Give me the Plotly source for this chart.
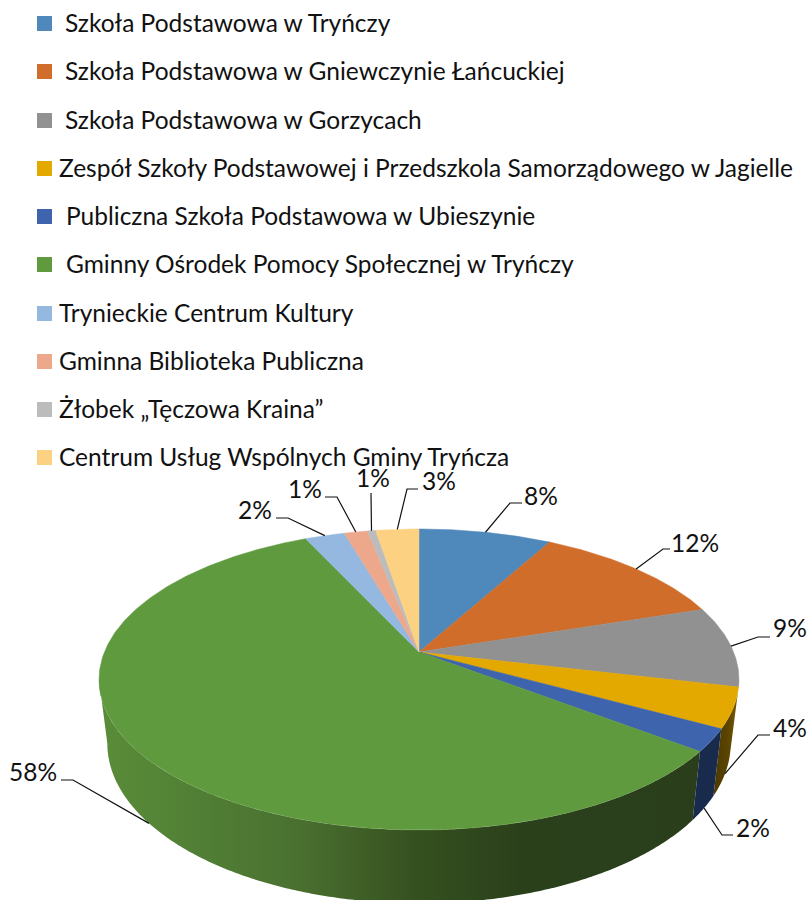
import math
import plotly.graph_objects as go

categories = [
    "Szkoła Podstawowa w Tryńczy",
    "Szkoła Podstawowa w Gniewczynie Łańcuckiej",
    "Szkoła Podstawowa w Gorzycach",
    "Zespół Szkoły Podstawowej i Przedszkola Samorządowego w Jagielle",
    "Publiczna Szkoła Podstawowa w Ubieszynie",
    "Gminny Ośrodek Pomocy Społecznej w Tryńczy",
    "Tryniec" + "kie Centrum Kultury",
    "Gminna Biblioteka Publiczna",
    "Żłobek „Tęczowa Kraina”",
    "Centrum Usług Wspólnych Gminy Tryńcza",
]
values = [8.0, 12.0, 8.7, 4.3, 2.4, 57.7, 2.4, 1.4, 0.5, 2.6]
labels = ["8%", "12%", "9%", "4%", "2%", "58%", "2%", "1%", "1%", "3%"]
colors = ["#4F88BB", "#D06D2A", "#919191", "#E3A900", "#3D64AD",
          "#609A3F", "#95B8E0", "#EDA88C", "#BCBCBC", "#FDD182"]

# side wall shading, left to right
wall_scales = {
    3: [[0, "#4A3800"], [0.6, "#5C4500"], [1, "#7A5C00"]],
    4: [[0, "#182B4D"], [1, "#182B4D"]],
    5: [[0, "#5A8C38"], [0.157, "#518035"], [0.33, "#4A7030"], [0.53, "#35501F"],
        [0.7, "#2A401B"], [1, "#2A3E1C"]],
}

# layout
W, H = 809, 900
CX, CY = 419, 652
R, B, K = 314.6, 145.5, 0.1827
DROP, SHRINK_X, STRETCH_Y = 62.2, 0.974, 1.063
FONT = "Lato"
FS = 24.5
TXT = "#111111"
legend_x = [63, 63, 63, 57, 64, 64, 57, 57, 57, 57]
legend_y = [22.5, 70.5, 119.5, 167.5, 215.5, 263.5, 312.5, 360.5, 408.5, 456.5]
swatch_y = [23.5, 71.5, 120.5, 168.5, 216.5, 264.5, 313.5, 361.5, 409.5, 457.5]
swatch_x = 44.5
label_center = [(541, 495), (695, 542), (790, 627), (790, 727), (753, 827),
                (33, 771), (255, 509), (305, 488), (373, 477), (439, 480)]
elbows = [[(510, 503), (522, 503)], [(663, 549), (670, 549)], [(758, 637), (770, 637)],
          [(758, 735), (770, 735)], [(722, 835), (733, 835)], [(73, 780), (61, 780)],
          [(288, 518), (276, 518)], [(337, 497), (325, 497)], [(371, 493)], [(407, 489), (418, 489)]]
on_bottom = {3, 4, 5}


def project(theta, lower=False):
    u, v = math.sin(theta), math.cos(theta)
    w = 1 + K * v
    dx, dy = R * u / w, -B * v / w
    if lower:
        return CX + SHRINK_X * dx, CY + DROP + STRETCH_Y * dy
    return CX + dx, CY + dy


def arc(a, b, lower=False):
    n = max(4, int((b - a) * 120))
    return [project(a + (b - a) * i / n, lower) for i in range(n + 1)]


total = sum(values)
edges = [0.0]
for val in values:
    edges.append(edges[-1] + val / total * 2 * math.pi)

# the wall is visible only between the two points where the rim turns back
turn = math.acos(-K)
front_start, front_end = turn, 2 * math.pi - turn

fig = go.Figure()

for i in (3, 5, 4):
    a, b = max(edges[i], front_start), min(edges[i + 1], front_end)
    pts = arc(a, b) + arc(a, b, True)[::-1]
    xs, ys = zip(*pts)
    fig.add_trace(go.Scatter(
        x=list(xs) + [xs[0]], y=list(ys) + [ys[0]], mode="none", fill="toself",
        fillgradient=dict(type="horizontal", colorscale=wall_scales[i]),
        hoverinfo="skip", showlegend=False))

# top surface
for i, (name, col) in enumerate(zip(categories, colors)):
    pts = [(CX, CY)] + arc(edges[i], edges[i + 1]) + [(CX, CY)]
    xs, ys = zip(*pts)
    fig.add_trace(go.Scatter(x=xs, y=ys, mode="lines", fill="toself", fillcolor=col,
                             line=dict(color=col, width=0.5), name=name,
                             hoverinfo="name", showlegend=False))

# leader lines
for i, elbow in enumerate(elbows):
    mid = (edges[i] + edges[i + 1]) / 2
    start = project(mid, i in on_bottom)
    pts = [start] + elbow
    fig.add_trace(go.Scatter(x=[p[0] for p in pts], y=[p[1] for p in pts], mode="lines",
                             line=dict(color="#111111", width=1.2),
                             hoverinfo="skip", showlegend=False))

# legend swatches
fig.add_trace(go.Scatter(x=[swatch_x] * len(categories), y=swatch_y, mode="markers",
                         marker=dict(symbol="square", size=15, color=colors, line=dict(width=0)),
                         text=categories, hoverinfo="text", showlegend=False))

annotations = []
for name, x, y in zip(categories, legend_x, legend_y):
    annotations.append(dict(x=x, y=y, xref="x", yref="y", text=name, showarrow=False,
                            xanchor="left", yanchor="middle",
                            font=dict(family=FONT, size=FS, color=TXT)))
for lab, (x, y) in zip(labels, label_center):
    annotations.append(dict(x=x, y=y, xref="x", yref="y", text=lab, showarrow=False,
                            xanchor="center", yanchor="middle",
                            font=dict(family=FONT, size=FS, color=TXT)))

fig.update_layout(
    width=W, height=H, margin=dict(l=0, r=0, t=0, b=0), autosize=False,
    paper_bgcolor="white", plot_bgcolor="white", showlegend=False,
    xaxis=dict(range=[0, W], visible=False, fixedrange=True),
    yaxis=dict(range=[H, 0], visible=False, fixedrange=True),
    annotations=annotations,
)
fig.write_html("out.html", config={"displayModeBar": False},
               post_script="document.body.style.margin='0';document.body.style.overflow='hidden';")
